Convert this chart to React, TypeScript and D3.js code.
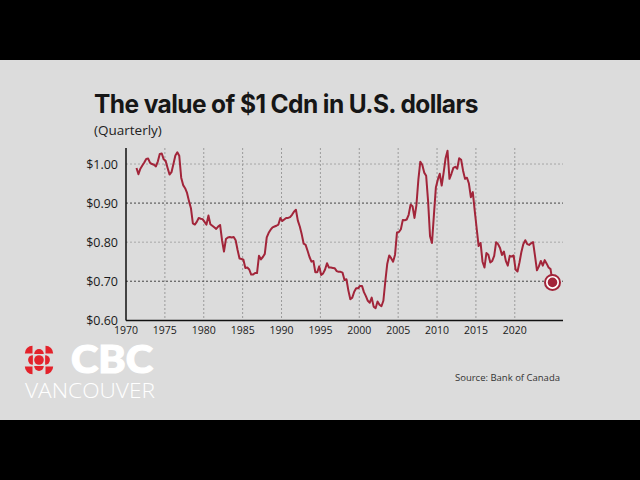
import React from "react";
import * as d3 from "d3";

// Quarterly values, USD per 1 CAD, starting 1971 Q2
const startYear = 1971.35;
const values: number[] = [
  0.990, 0.974, 0.988, 0.996, 1.004, 1.013, 1.014, 1.003, 1.000, 0.998, 0.994, 1.007,
  1.026, 1.027, 1.012, 1.008, 0.990, 0.973, 0.979, 1.000, 1.022, 1.030, 1.021, 0.965,
  0.946, 0.938, 0.926, 0.905, 0.887, 0.848, 0.845, 0.852, 0.862, 0.860, 0.859, 0.852,
  0.845, 0.868, 0.846, 0.842, 0.838, 0.834, 0.840, 0.844, 0.805, 0.776, 0.808, 0.812,
  0.813, 0.812, 0.813, 0.805, 0.780, 0.758, 0.757, 0.755, 0.734, 0.735, 0.730, 0.717,
  0.717, 0.721, 0.721, 0.765, 0.756, 0.762, 0.770, 0.812, 0.824, 0.832, 0.838, 0.840,
  0.842, 0.845, 0.862, 0.854, 0.858, 0.862, 0.862, 0.864, 0.870, 0.878, 0.883, 0.855,
  0.840, 0.820, 0.796, 0.793, 0.778, 0.762, 0.750, 0.752, 0.723, 0.723, 0.738, 0.716,
  0.720, 0.730, 0.746, 0.735, 0.735, 0.734, 0.733, 0.726, 0.724, 0.724, 0.722, 0.703,
  0.705, 0.676, 0.654, 0.658, 0.673, 0.682, 0.682, 0.688, 0.688, 0.672, 0.662, 0.650,
  0.645, 0.658, 0.635, 0.631, 0.648, 0.640, 0.636, 0.650, 0.700, 0.745, 0.766, 0.759,
  0.750, 0.768, 0.825, 0.826, 0.833, 0.857, 0.856, 0.858, 0.870, 0.896, 0.892, 0.862,
  0.895, 0.960, 1.006, 0.998, 0.978, 0.970, 0.905, 0.815, 0.798, 0.870, 0.940, 0.960,
  0.975, 0.945, 0.978, 1.015, 1.034, 0.962, 0.975, 0.990, 0.993, 0.988, 1.015, 1.011,
  0.983, 0.962, 0.965, 0.950, 0.915, 0.928, 0.880, 0.835, 0.790, 0.798, 0.750, 0.735,
  0.772, 0.768, 0.748, 0.752, 0.765, 0.800, 0.795, 0.785, 0.767, 0.776, 0.752, 0.740,
  0.765, 0.763, 0.766, 0.730, 0.725, 0.748, 0.775, 0.795, 0.805, 0.795, 0.793, 0.797,
  0.800, 0.765, 0.728, 0.738, 0.752, 0.740, 0.754, 0.745, 0.735, 0.731, 0.697,
];

const xTicks = [1970, 1975, 1980, 1985, 1990, 1995, 2000, 2005, 2010, 2015, 2020];
const yTicks = [0.6, 0.7, 0.8, 0.9, 1.0];
const darkGrid = [0.7, 0.9];
const lightGrid = [0.8, 1.0];

const title = "The value of $1 Cdn in U.S. dollars";
const subtitle = "(Quarterly)";
const source = "Source: Bank of Canada";

export default function App() {
  const W = 640, H = 480;
  const x = d3.scaleLinear().domain([1970, 2026.2]).range([126, 563]);
  const y = d3.scaleLinear().domain([0.6, 1.041]).range([320.3, 148]);
  const pts: [number, number][] = values.map((v, i) => [startYear + i * 0.25, v]);
  const line = d3.line<[number, number]>().x(d => x(d[0])).y(d => y(d[1]));
  const last = pts[pts.length - 1];
  const fmt = d3.format("$.2f");
  const red = "#a2253a";
  const font = "'Open Sans', 'Noto Sans', sans-serif";

  // CBC gem
  const gx = 39, gy = 360, r = 4.8;
  const gemRed = "#e3222b";
  const gemParts: React.ReactNode[] = [];
  gemParts.push(<circle key="c" cx={gx} cy={gy} r={r} fill={gemRed} />);
  [[0, -1], [1, 0], [0, 1], [-1, 0]].forEach(([dx, dy], k) => {
    const ang = Math.atan2(dy, dx);
    const start = ang;
    const p = d3.arc()({ innerRadius: 0, outerRadius: r, startAngle: start, endAngle: start + Math.PI } as any);
    gemParts.push(
      <path key={"h" + k} d={p || ""} transform={`translate(${gx + dx * (r + 1.3)},${gy + dy * (r + 1.3)})`} fill={gemRed} />
    );
  });
  [[1, -1], [1, 1], [-1, 1], [-1, -1]].forEach(([dx, dy], k) => {
    const a0 = Math.atan2(dx, -dy) - Math.PI / 4;
    const p = d3.arc()({ innerRadius: 0, outerRadius: r * 1.6, startAngle: a0, endAngle: a0 + Math.PI / 2 } as any);
    gemParts.push(
      <path key={"q" + k} d={p || ""} transform={`translate(${gx + dx * (r + 1.7)},${gy + dy * (r + 1.7)})`} fill={gemRed} />
    );
  });

  return (
    <svg width={W} height={H} style={{ position: "absolute", left: 0, top: 0, display: "block" }}>
      <rect x={0} y={0} width={W} height={H} fill="#000" />
      <rect x={0} y={60} width={W} height={360} fill="#dcdcdc" />

      <text x={94} y={113} fontFamily="Inter, 'Open Sans', sans-serif" fontWeight={700} fontSize={25} letterSpacing={-0.6} textLength={384} lengthAdjust="spacingAndGlyphs" fill="#161616">{title}</text>
      <text x={94} y={135} fontFamily={font} fontSize={13.5} fill="#222">{subtitle}</text>

      {/* grid */}
      {xTicks.filter(t => t > 1970).map(t => (
        <line key={"vx" + t} x1={x(t)} x2={x(t)} y1={148} y2={320} stroke="#8a8a8a" strokeWidth={0.8} strokeDasharray="2,2" />
      ))}
      {lightGrid.map(v => (
        <line key={"lg" + v} x1={126} x2={563} y1={y(v)} y2={y(v)} stroke="#9a9a9a" strokeWidth={0.8} strokeDasharray="2,2" />
      ))}
      {darkGrid.map(v => (
        <line key={"dg" + v} x1={126} x2={563} y1={y(v)} y2={y(v)} stroke="#444" strokeWidth={1} strokeDasharray="2,2" />
      ))}

      {/* axes */}
      <line x1={126} x2={126} y1={148} y2={320.5} stroke="#111" strokeWidth={1.5} />
      <line x1={126} x2={563} y1={320.5} y2={320.5} stroke="#111" strokeWidth={1.5} />

      {yTicks.map(v => (
        <text key={"yt" + v} x={118} y={y(v) + 4.5} textAnchor="end" fontFamily={font} fontSize={12.5} fill="#1a1a1a">{fmt(v)}</text>
      ))}
      {xTicks.map(t => (
        <text key={"xt" + t} x={x(t)} y={334} textAnchor="middle" fontFamily={font} fontSize={10.5} fill="#1a1a1a">{t}</text>
      ))}

      <path d={line(pts) || ""} fill="none" stroke={red} strokeWidth={2} strokeLinejoin="round" />

      <circle cx={x(last[0])} cy={y(last[1])} r={7.5} fill="#fff" stroke={red} strokeWidth={2} />
      <circle cx={x(last[0])} cy={y(last[1])} r={4.8} fill={red} />

      {/* logo */}
      {gemParts}
      <text x={71} y={373} fontFamily="Lato, 'Open Sans', sans-serif" fontWeight={900} fontSize={37} fill="#fff" stroke="#fff" strokeWidth={1.2} textLength={82} lengthAdjust="spacingAndGlyphs">CBC</text>
      <text x={25} y={398} fontFamily="'Open Sans', sans-serif" fontWeight={300} fontSize={20} fill="#fff" textLength={130} lengthAdjust="spacingAndGlyphs">VANCOUVER</text>

      <text x={560} y={381} textAnchor="end" fontFamily={font} fontSize={9.5} fill="#333">{source}</text>
    </svg>
  );
}
